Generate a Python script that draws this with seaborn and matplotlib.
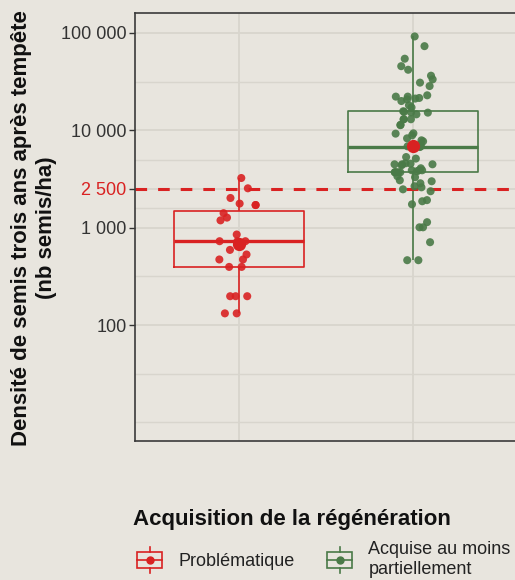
import numpy as np
import pandas as pd
import matplotlib
matplotlib.use("Agg")
import matplotlib.pyplot as plt
import seaborn as sns
from matplotlib.legend_handler import HandlerBase
from matplotlib.patches import Rectangle
from matplotlib.lines import Line2D

# groups (legend order)
groups = ["Problématique", "Acquise au moins\npartiellement"]

# seedling density three years after the storm (seedlings/ha)
dens_problematique = [3240, 2540, 2020, 1770, 1710, 1710, 1410, 1270, 1190, 852,
                      727, 727, 727, 592, 531, 472, 472, 396, 396, 198, 198, 198,
                      132, 132]
dens_acquise = [92100, 73200, 54400, 45600, 41900, 36400, 33400, 30900, 28500,
                22900, 22200, 22200, 21500, 21200, 20800, 20000, 18100, 17200,
                15700, 15500, 15300, 15200, 14600, 13000, 13000, 13000, 11400,
                11300, 9320, 9250, 8890, 8280, 7900, 7710, 7190, 6850, 6850,
                6740, 5320, 5130, 4590, 4550, 4480, 4480, 4480, 4380, 4080,
                3890, 3890, 3890, 3800, 3710, 3710, 3710, 3710, 3710, 3380,
                3300, 3070, 3000, 2860, 2670, 2600, 2480, 2370, 1920, 1870,
                1740, 1140, 1010, 1010, 710, 464, 464]

threshold = 2500
tick_vals = [100, 1000, 2500, 10000, 100000]
tick_labels = ["100", "1 000", "2 500", "10 000", "100 000"]
minor_vals = [10, 31.6, 316, 1581, 5000, 31623]

red = "#D92222"
green = "#4A7A47"
bg = "#E8E5DE"
grid_col = "#D8D5CD"

df = pd.DataFrame({
    "acq": [groups[0]] * len(dens_problematique) + [groups[1]] * len(dens_acquise),
    "dens": dens_problematique + dens_acquise,
})
pal = {groups[0]: red, groups[1]: green}

plt.rcParams["font.family"] = ["Liberation Sans", "DejaVu Sans"]

fig = plt.figure(figsize=(5.15, 5.8), dpi=100, facecolor=bg)
ax = fig.add_axes([135 / 515, 1 - 440.7 / 580, (517 - 135) / 515, (440.7 - 13) / 580])
ax.set_facecolor(bg)
ax.set_yscale("log")

sns.boxplot(data=df, x="acq", y="dens", hue="acq", palette=pal, fill=False,
            width=0.75, showcaps=False, showfliers=False, whis=1.5,
            linewidth=1.2, medianprops=dict(linewidth=2.4), legend=False, ax=ax)

np.random.seed(3)
sns.stripplot(data=df, x="acq", y="dens", hue="acq", palette=pal, jitter=0.12,
              size=5.8, alpha=0.9, linewidth=0, legend=False, zorder=3, ax=ax)

# mean (computed on the log axis, as in the original)
sns.pointplot(data=df, x="acq", y="dens", estimator="mean", errorbar=None,
              color=red, linestyle="none", markersize=7.5, ax=ax, zorder=4)
for ln in ax.lines[-2:]:
    ln.set_zorder(5)

ax.axhline(threshold, color=red, lw=2.2, dashes=(3.8, 3.6), zorder=2.5)

ax.set_xlim(-0.6, 1.6)
ax.set_ylim(10 ** 0.813, 10 ** 5.205)
ax.set_yticks(tick_vals)
ax.set_yticklabels(tick_labels)
ax.set_yticks(minor_vals, minor=True)
ax.set_yticklabels([], minor=True)
ax.tick_params(axis="y", which="major", length=4, width=1, color="#333333",
               labelsize=13, labelcolor="#333333", pad=2)
ax.tick_params(axis="y", which="minor", length=0)
ax.tick_params(axis="x", length=0, labelbottom=False)
ax.get_yticklabels()[2].set_color(red)

ax.set_axisbelow(True)
ax.grid(True, which="major", axis="both", color=grid_col, lw=1.3)
ax.grid(True, which="minor", axis="y", color=grid_col, lw=1.0)
ax.set_xlabel("")
ax.set_ylabel("")
for s in ax.spines.values():
    s.set_color("#3a3a3a")
    s.set_linewidth(1.2)

fig.text(34 / 515, 1 - 228 / 580,
         "Densité de semis trois ans après tempête\n(nb semis/ha)",
         rotation=90, ha="center", va="center", fontsize=16, fontweight="bold",
         linespacing=1.2, color="#111111")


class BoxKey(HandlerBase):
    def create_artists(self, legend, orig_handle, xdescent, ydescent,
                       width, height, fontsize, trans):
        c = orig_handle.get_color()
        x0, y0 = -xdescent, -ydescent
        cx, cy = x0 + width / 2, y0 + height / 2
        bh = height * 0.33
        box = Rectangle((x0, cy - bh), width, 2 * bh, fill=False, ec=c, lw=1.2,
                        transform=trans)
        w1 = Line2D([cx, cx], [cy + bh, y0 + height], color=c, lw=1.2, transform=trans)
        w2 = Line2D([cx, cx], [y0, cy - bh], color=c, lw=1.2, transform=trans)
        med = Line2D([x0, x0 + width], [cy, cy], color=c, lw=1.2, transform=trans)
        pt = Line2D([cx], [cy], marker="o", ms=5, color=c, ls="none", transform=trans)
        return [box, w1, w2, med, pt]


handles = [Line2D([], [], color=pal[g]) for g in groups]
fig.text(133 / 515, 1 - 525 / 580, "Acquisition de la régénération",
         fontsize=16, fontweight="bold", ha="left", va="baseline", color="#111111")
leg = fig.legend(handles, groups, handler_map={Line2D: BoxKey()}, ncol=2,
                 frameon=False, loc="upper left",
                 bbox_to_anchor=(137 / 515, 1 - 541 / 580),
                 fontsize=13, handlelength=1.39, handleheight=1.78,
                 handletextpad=0.9, columnspacing=1.8, borderpad=0,
                 borderaxespad=0, labelspacing=0)
for t in leg.get_texts():
    t.set_linespacing(1.2)
    t.set_color("#222222")

fig.savefig("out.png", dpi=100, facecolor=bg)
